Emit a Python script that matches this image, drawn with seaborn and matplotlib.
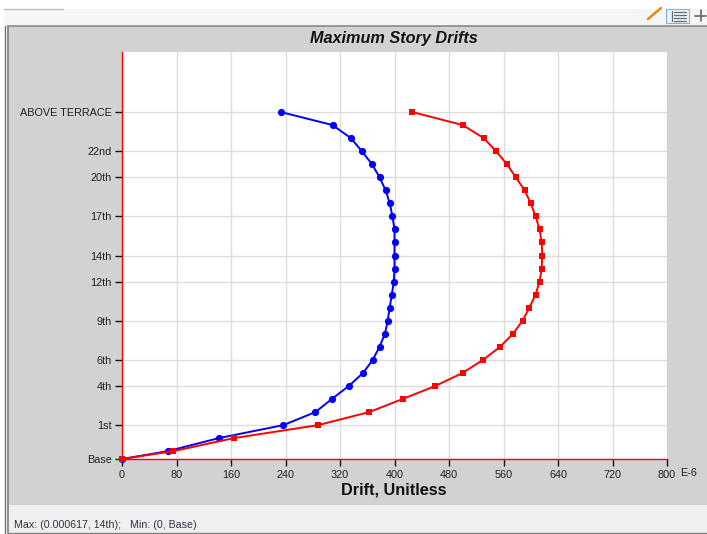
import matplotlib
matplotlib.use("Agg")
import matplotlib.pyplot as plt
from matplotlib.patches import Rectangle
from matplotlib.lines import Line2D
import pandas as pd
import seaborn as sns

levels = [-1.6, -1, 0, 1, 2, 3, 4, 5, 6, 7, 8, 9, 10, 11, 12, 13, 14, 15, 16, 17, 18, 19, 20, 21, 22, 23, 24, 25]
drift_blue = [0, 67, 142, 237, 284, 308, 333, 354, 368, 378, 386, 390, 393, 396, 399, 400, 400, 400, 400, 397, 393, 387, 378, 367, 352, 336, 309, 233]
drift_red = [0, 75, 164, 288, 363, 412, 460, 500, 530, 555, 574, 588, 598, 607, 613, 616, 617, 616, 613, 607, 600, 591, 578, 565, 549, 531, 500, 426]
story_ticks = [-1.6, 1, 4, 6, 9, 12, 14, 17, 20, 22, 25]
story_labels = ["Base", "1st", "4th", "6th", "9th", "12th", "14th", "17th", "20th", "22nd", "ABOVE TERRACE"]
x_ticks = [0, 80, 160, 240, 320, 400, 480, 560, 640, 720, 800]

W, H = 707, 534
sns.set_theme(style="white")
plt.rcParams["font.family"] = ["Liberation Sans", "DejaVu Sans"]

fig = plt.figure(figsize=(W / 100, H / 100), dpi=100, facecolor="white")


def fx(px):
    return px / W


def fy(py):
    return 1 - py / H


def rect(x0, y0, x1, y1, fc, ec="none", lw=0, z=-10):
    fig.add_artist(Rectangle((fx(x0), fy(y1)), fx(x1 - x0), (y1 - y0) / H, transform=fig.transFigure,
                             facecolor=fc, edgecolor=ec, linewidth=lw, zorder=z))


def line(xs, ys, color, lw=1.0):
    fig.add_artist(Line2D([fx(v) for v in xs], [fy(v) for v in ys], color=color, linewidth=lw, zorder=-5))


# Window chrome
rect(4, 9, W, 26, "#f6f6f6")
rect(8, 26, W, 505, "#d2d2d2")
rect(8, 505, W, 533, "#efefef")
line([4, 63], [9, 9], "#bdbdbd", 1.0)
line([4.5, 4.5], [26, H], "#707070", 1.0)
line([8, 8], [26, 533], "#808080", 1.2)
line([8, W], [25.5, 25.5], "#8a8a8a", 1.2)
line([8, W], [533, 533], "#808080", 1.0)

# Toolbar icons
line([648, 661], [19, 8], "#e08a1e", 1.8)
rect(666, 9, 689, 23, "#eaf3fb", "#7fb2dc", 0.8, z=-6)
for yy in (12, 15, 18, 21):
    line([674, 686], [yy, yy], "#6d6d6d", 0.9)
line([672, 672], [11, 21], "#6d6d6d", 0.9)
line([695, 706], [16, 16], "#666666", 1.2)
line([700.5, 700.5], [10, 21], "#666666", 1.2)

# Plot
ax = fig.add_axes([fx(122), fy(459), fx(667 - 122), (459 - 52) / H], facecolor="white")
df = pd.DataFrame({"level": levels, "blue": drift_blue, "red": drift_red})
sns.lineplot(data=df, x="blue", y="level", sort=False, estimator=None, ax=ax, color="#0000ff",
             marker="o", markersize=5.2, markeredgewidth=0, linewidth=1.4, clip_on=False, zorder=4)
sns.lineplot(data=df, x="red", y="level", sort=False, estimator=None, ax=ax, color="#ff0000",
             marker="s", markersize=5, markeredgewidth=0, linewidth=1.4, clip_on=False, zorder=5)

ax.set_xlim(0, 800)
ax.set_ylim(-1.6, 29.6)
ax.set_xticks(x_ticks)
ax.set_xticklabels([str(v) for v in x_ticks])
ax.set_yticks(story_ticks)
ax.set_yticklabels(story_labels)
ax.grid(True, color="#dcdcdc", linewidth=1.0)
ax.set_axisbelow(True)
ax.tick_params(axis="both", which="major", length=5, width=1, color="#111111", labelsize=7.8,
               labelcolor="#222222", bottom=True, left=True, pad=3)
ax.tick_params(axis="y", pad=2.2)
for side in ("top", "right"):
    ax.spines[side].set_visible(False)
for side in ("left", "bottom"):
    ax.spines[side].set_color("#ff0000")
    ax.spines[side].set_linewidth(1.0)
ax.set_xlabel("")
ax.set_ylabel("")

# Texts
fig.text(fx(394), fy(38), "Maximum Story Drifts", ha="center", va="center", fontsize=11.7,
         fontweight="bold", fontstyle="italic", color="#111111")
fig.text(fx(394), fy(490), "Drift, Unitless", ha="center", va="center", fontsize=11.7,
         fontweight="bold", color="#111111")
fig.text(fx(680), fy(473), "E-6", ha="left", va="center", fontsize=7.8, color="#222222")
fig.text(fx(14), fy(525), "Max: (0.000617, 14th);   Min: (0, Base)", ha="left", va="center",
         fontsize=7.7, color="#333344")

fig.savefig("out.png", dpi=100, facecolor=fig.get_facecolor())
